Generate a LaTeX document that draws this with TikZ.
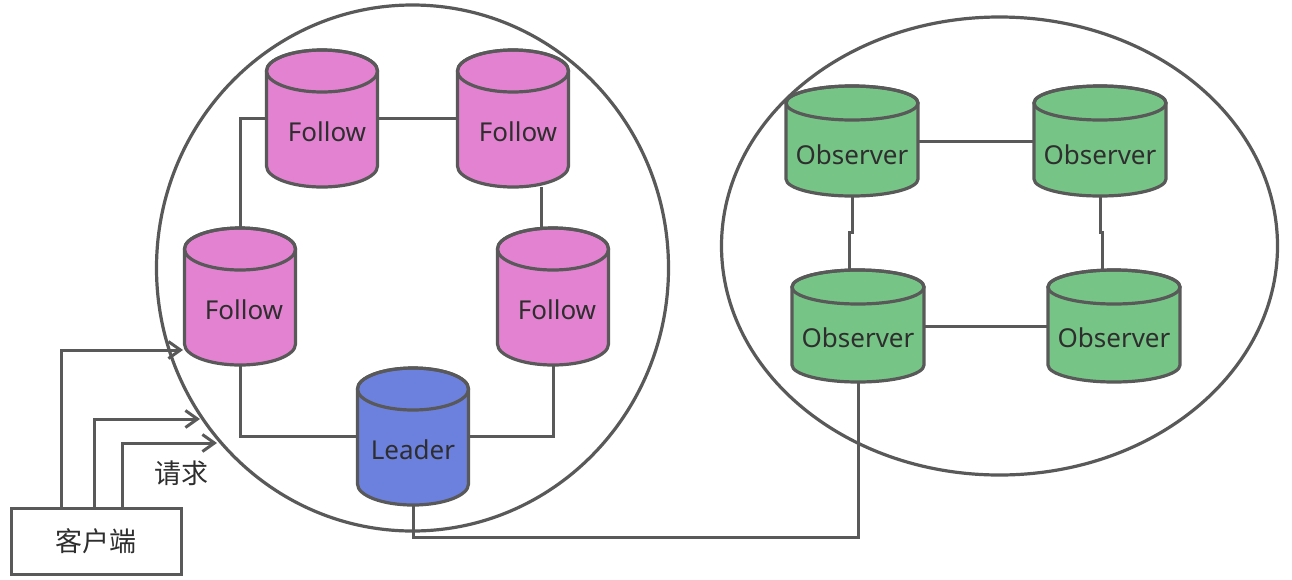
\documentclass[tikz,border=0pt]{standalone}
\usepackage{fontspec}
\setmainfont{Noto Sans}
\newfontfamily\cjk{Noto Sans CJK SC}
\usetikzlibrary{arrows.meta,calc}

\definecolor{edge}{HTML}{595959}
\definecolor{txt}{HTML}{2E2E2E}
\definecolor{followfill}{HTML}{E482D2}
\definecolor{leaderfill}{HTML}{6C80DE}
\definecolor{observerfill}{HTML}{76C486}

\tikzset{
  outline/.style={draw=edge, line width=3.2pt},
  link/.style={draw=edge, line width=3pt, line join=miter},
  reqarrow/.style={link, -{Straight Barb[length=12pt,width=17pt,line width=3pt]}},
  label/.style={text=txt, font=\fontsize{26}{30}\selectfont, inner sep=0pt},
  cjklabel/.style={text=txt, font=\cjk\fontsize{27}{30}\selectfont, inner sep=0pt},
  body/.style={inner sep=0pt, outer sep=0pt, draw=none, rectangle},
}

% \dbcyl{name}{center x}{top y}{bottom y}{half width}{cap radius}{fill}{text}{text x,y}
% y values are measured downward from the top edge
\newcommand\dbcyl[9]{%
  \filldraw[outline, fill=#7]
    (#2-#5, -#3-#6) -- (#2-#5, -#4+#6)
    arc[start angle=180, end angle=360, x radius=#5, y radius=#6]
    -- (#2+#5, -#3-#6)
    arc[start angle=0, end angle=180, x radius=#5, y radius=#6] -- cycle;
  \draw[outline] (#2, -#3-#6) ellipse[x radius=#5, y radius=#6];
  \node[body, minimum width=2*#5 pt, minimum height=#4-#3 pt]
    (#1) at (#2, -#3/2-#4/2) {};
  \node[label] at ($(#9)$) {#8};
}

\begin{document}
\begin{tikzpicture}[x=1pt, y=1pt]
  \useasboundingbox (0,0) rectangle (1292,-579);

  % cluster outlines
  \draw[outline] (412.5,-268) ellipse[x radius=256, y radius=263];
  \draw[outline] (999.5,-246) ellipse[x radius=278, y radius=229];

  % ensemble members
  \dbcyl{f1}{322}{50}{187}{55.5}{21}{followfill}{Follow}{327,-132}
  \dbcyl{f2}{513}{50}{187}{55.5}{21}{followfill}{Follow}{518,-132}
  \dbcyl{f3}{240}{228}{365}{55.5}{21}{followfill}{Follow}{244,-310}
  \dbcyl{f4}{553}{228}{365}{55.5}{21}{followfill}{Follow}{557,-310}
  \dbcyl{ld}{413}{368}{505}{55.5}{21}{leaderfill}{Leader}{413,-450}

  % observers
  \dbcyl{o1}{852}{86}{196}{66}{17}{observerfill}{Observer}{852,-155}
  \dbcyl{o2}{1100}{86}{196}{66}{17}{observerfill}{Observer}{1100,-155}
  \dbcyl{o3}{858}{270}{382}{66}{17}{observerfill}{Observer}{858,-338}
  \dbcyl{o4}{1114}{270}{382}{66}{17}{observerfill}{Observer}{1114,-338}

  % links inside the ensemble
  \draw[link] (f1.west) -| (f3.north);
  \draw[link] (f1.east) -- (f2.west);
  \draw[link] ($(f2.south)+(28,0)$) -- ($(f4.north)+(-12,0)$);
  \draw[link] (f3.south) |- (ld.west);
  \draw[link] (ld.east) -| (f4.south);

  % links between observers
  \draw[link] (o1.east) -- (o2.west);
  \draw[link] (o3.east) -- (o4.west);
  \draw[link] (o1.south) -- ++(0,-36) -- ++(-3,0) -- ($(o3.north)+(-9,0)$);
  \draw[link] (o2.south) -- ++(0,-36) -- ++(2,0) -- ($(o4.north)+(-12,0)$);

  % leader to observers
  \draw[link] (ld.south) -- ++(0,-32) -| (o3.south);

  % client
  \node[draw=edge, line width=3pt, minimum width=170pt, minimum height=66pt,
        inner sep=0pt, cjklabel] (client) at (96,-541) {客户端};
  \coordinate (r1) at (183,-350);
  \coordinate (r2) at (200,-419);
  \coordinate (r3) at (217,-443);
  \draw[reqarrow] ($(client.north west)+(52,0)$) |- (r1);
  \draw[reqarrow] ($(client.north west)+(85,0)$) |- (r2);
  \draw[reqarrow] ($(client.north west)+(113,0)$) |- (r3);
  \node[cjklabel] (req) at (181,-473) {请求};
\end{tikzpicture}
\end{document}
